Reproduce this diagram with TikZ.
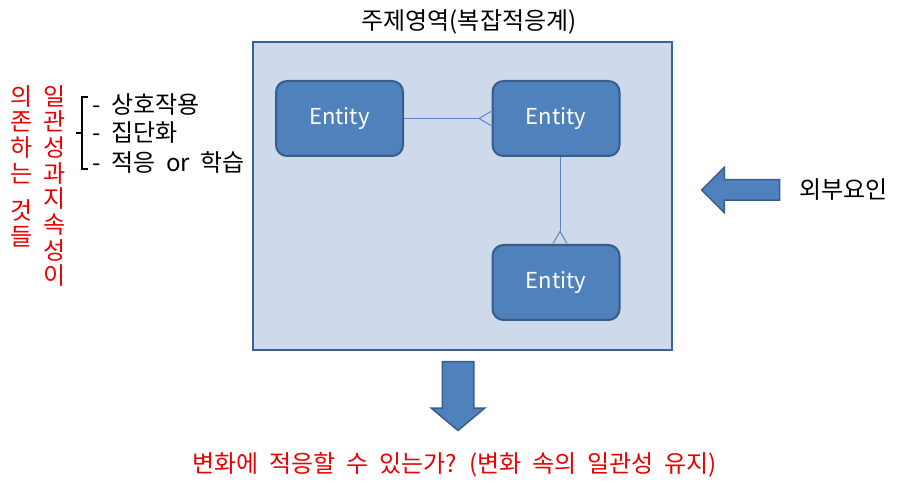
\documentclass[tikz,border=0pt]{standalone}
\usepackage{fontspec}
\setmainfont{Noto Sans CJK KR}[WordSpace=2]
\usetikzlibrary{shapes.arrows, arrows.meta, positioning}
\definecolor{areafill}{RGB}{206,218,236}
\definecolor{areadraw}{RGB}{62,96,150}
\definecolor{entfill}{RGB}{79,129,189}
\definecolor{entdraw}{RGB}{56,93,138}
\definecolor{linkdraw}{RGB}{95,130,190}
\definecolor{textred}{RGB}{235,0,0}

\begin{document}
\begin{tikzpicture}[x=1pt, y=-1pt,
	  area/.style={rectangle, draw=areadraw, line width=2.8pt, fill=areafill, minimum width=419pt, minimum height=308pt},
	  entity/.style={rectangle, rounded corners=11pt, draw=entdraw, line width=2pt, fill=entfill, minimum width=127pt, minimum height=75pt, text=white, font=\fontsize{22}{24}\selectfont},
	  link/.style={draw=linkdraw, line width=1pt, -{Straight Barb[reversed, length=12pt, width=14pt]}},
	  blockarrow/.style={single arrow, draw=entdraw, line width=1.5pt, fill=entfill, inner xsep=0pt},
	  label/.style={font=\fontsize{24}{26}\selectfont, inner sep=0pt},
	  redlabel/.style={label, text=textred},
	  vertical/.style={redlabel, align=center, anchor=north, font=\fontsize{24}{25.7}\selectfont}
	]
	\useasboundingbox (0,0) rectangle (906,486);

	\node (area) [area] at (462.5,196) {};
	\node (title) [label] at (469,22) {주제영역(복잡적응계)};

	\node (e1) [entity] at (339.5,118.5) {Entity};
	\node (e2) [entity] at (556,118.5) {Entity};
	\node (e3) [entity] at (556,282.5) {Entity};

	\draw [link] (e1.east) -- (e2.west);
	\draw [link] ([xshift=4pt]e2.south) -- ([xshift=4pt]e3.north);

	\node (outer) [blockarrow, shape border rotate=180, inner ysep=9.5pt, minimum height=78pt, single arrow head extend=12.5pt, anchor=tip] at (700.5,190) {};
	\node (outertext) [label, right=19pt of outer.tail] {외부요인};

	\node (down) [blockarrow, rotate=-90, inner ysep=15pt, minimum height=69pt, single arrow head extend=11pt, single arrow tip angle=100, anchor=tip] at (458,431.5) {};
	\node (question) [redlabel] at (454.5,465) {변화에 적응할 수 있는가? (변화 속의 일관성 유지)};

	% 좌측 목록과 괄호
	\node (l1) [label, anchor=west] at (92,105) {- 상호작용};
	\node (l2) [label, anchor=west] at (92,133) {- 집단화};
	\node (l3) [label, anchor=west] at (92,162) {- 적응 or 학습};
	\draw [line width=1.2pt] (88,97) -- (82,97) -- (82,169) -- (88,169);
	\draw [line width=1.2pt] (82,133) -- (76,133);

	% 세로 글씨
	\node (col1) [vertical] at (55,85) {일\\관\\성\\과\\지\\속\\성\\이};
	\node (col2) [vertical] at (22,85) {의\\존\\하\\는\\[12pt]것\\들};

\end{tikzpicture}
\end{document}
